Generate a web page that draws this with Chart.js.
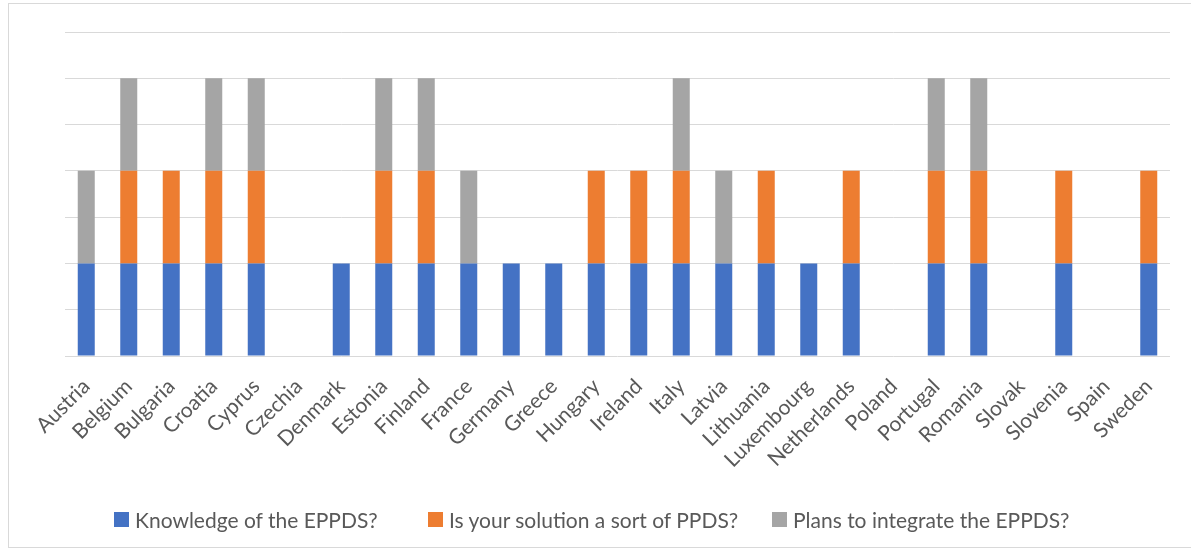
<!DOCTYPE html>
<html>
<head>
<meta charset="utf-8">
<script src="https://cdn.jsdelivr.net/npm/chart.js@4"></script>
<style>
  html, body { margin: 0; padding: 0; background: #fff; }
  #wrap { position: relative; width: 1191px; height: 552px; overflow: hidden; }
  #frame { position: absolute; left: 8px; top: 3px; width: 1190px; height: 545px;
           border: 1px solid #d9d9d9; box-sizing: border-box; pointer-events: none; }
  #chart { position: absolute; left: 0; top: 0; }
  #legend { position: absolute; top: 505px; left: 0; width: 1191px; height: 28px;
            font-family: Lato, "Open Sans", sans-serif; font-size: 21px; color: #595959; }
  .item { position: absolute; top: 0; white-space: nowrap; display: flex; align-items: center; height: 28px; }
  .swatch { width: 15px; height: 15px; margin-right: 6px; display: inline-block; }
</style>
</head>
<body>
<div id="wrap">
  <canvas id="chart" width="1191" height="552"></canvas>
  <div id="legend"></div>
  <div id="frame"></div>
</div>
<script>
const countries = ["Austria", "Belgium", "Bulgaria", "Croatia", "Cyprus", "Czechia", "Denmark",
  "Estonia", "Finland", "France", "Germany", "Greece", "Hungary", "Ireland", "Italy", "Latvia",
  "Lithuania", "Luxembourg", "Netherlands", "Poland", "Portugal", "Romania", "Slovak",
  "Slovenia", "Spain", "Sweden"];

const seriesNames = ["Knowledge of the EPPDS?", "Is your solution a sort of PPDS?", "Plans to integrate the EPPDS?"];
const seriesColors = ["#4472C4", "#ED7D31", "#A5A5A5"];

const knowledge  = [1,1,1,1,1,0,1,1,1,1,1,1,1,1,1,1,1,1,1,0,1,1,0,1,0,1];
const sortOfPpds = [0,1,1,1,1,0,0,1,1,0,0,0,1,1,1,0,1,0,1,0,1,1,0,1,0,1];
const integrate  = [1,1,0,1,1,0,0,1,1,1,0,0,0,0,1,1,0,0,0,0,1,1,0,0,0,0];

const seriesValues = [knowledge, sortOfPpds, integrate];

const datasets = seriesNames.map((name, i) => ({
  label: name,
  data: seriesValues[i],
  backgroundColor: seriesColors[i],
  borderWidth: 0,
  barPercentage: 0.4,
  categoryPercentage: 1.0
}));

new Chart(document.getElementById("chart"), {
  type: "bar",
  data: { labels: countries, datasets },
  options: {
    responsive: false,
    animation: false,
    layout: { padding: { left: 65, right: 21, top: 32, bottom: 0 } },
    plugins: { legend: { display: false }, tooltip: { enabled: false } },
    scales: {
      x: {
        stacked: true,
        grid: { display: false },
        border: { display: false },
        ticks: {
          color: "#595959",
          font: { family: "Lato, 'Open Sans', sans-serif", size: 21 },
          minRotation: 45, maxRotation: 45, autoSkip: false, padding: 10
        },
        afterFit: (scale) => { scale.height = 196; }
      },
      y: {
        stacked: true,
        min: 0, max: 3.5,
        ticks: { display: false, stepSize: 0.5 },
        grid: { color: "#d9d9d9", lineWidth: 1, drawTicks: false },
        border: { display: false },
        afterFit: (scale) => { scale.width = 0; }
      }
    }
  }
});

// Legend row under the plot
const legendX = [114, 428, 772];
const legend = document.getElementById("legend");
seriesNames.forEach((name, i) => {
  const item = document.createElement("div");
  item.className = "item";
  item.style.left = legendX[i] + "px";
  const sw = document.createElement("span");
  sw.className = "swatch";
  sw.style.background = seriesColors[i];
  item.appendChild(sw);
  item.appendChild(document.createTextNode(name));
  legend.appendChild(item);
});
</script>
</body>
</html>
